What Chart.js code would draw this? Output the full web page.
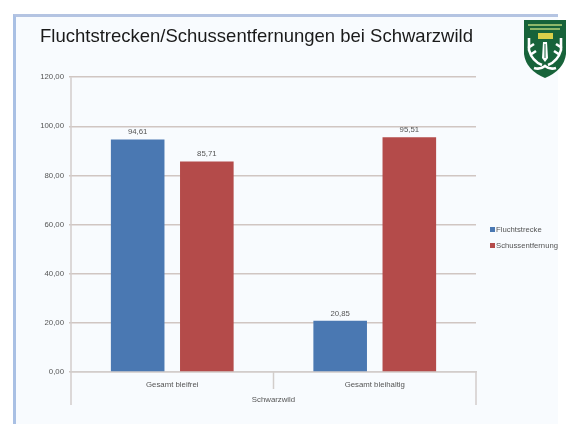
<!DOCTYPE html>
<html>
<head>
<meta charset="utf-8">
<script src="https://cdn.jsdelivr.net/npm/chart.js@4"></script>
<style>
html, body { margin: 0; padding: 0; background: #fff; }
#wrapper { position: relative; width: 566px; height: 424px; overflow: hidden; }
#panel { position: absolute; left: 13px; top: 14px; width: 545px; height: 410px; background: #f8fbfe;
	border-left: 3px solid #a9c0e4; border-top: 3px solid #b4c4e2; box-sizing: border-box; }
#box { position: absolute; left: 0; top: 0; width: 566px; height: 424px; filter: blur(0.5px); }
#logo { position: absolute; left: 524px; top: 20px; filter: blur(0.6px); }
#legend { position: absolute; left: 490px; top: 225px; font: 7.7px "Liberation Sans", sans-serif; color: #555; filter: blur(0.5px); }
#legend div { height: 16px; line-height: 10px; white-space: nowrap; }
#legend span { display: inline-block; width: 5px; height: 5px; margin-right: 1px; vertical-align: 0; }
</style>
</head>
<body>
<div id="wrapper">
	<div id="panel"></div>
	<div id="box"><canvas id="grafico" width="566" height="424"></canvas></div>
	<div id="legend"></div>
	<svg id="logo" width="42" height="58" viewBox="0 0 42 58">
		<path d="M0 0 H42 V34 Q40 50 21 58 Q2 50 0 34 Z" fill="#17633a"/>
		<rect x="14" y="13" width="15" height="6" fill="#d8cf4a"/>
		<rect x="4" y="4" width="34" height="2" fill="#8fb86a"/>
		<rect x="6" y="8" width="30" height="2" fill="#8fb86a"/>
		<path d="M5 18 V30 Q8 41 18 45 M37 18 V30 Q34 41 24 45 M4 28 L10 24 M38 28 L32 24 M6 35 L12 31 M36 35 L30 31 M10 48 Q16 50 21 46 Q26 50 32 48" stroke="#fff" stroke-width="2.6" fill="none"/>
		<path d="M19 22 H23 L24 38 L21 42 L18 38 Z" fill="#fff"/>
		<path d="M21 24 V38" stroke="#17633a" stroke-width="1"/>
	</svg>
</div>

<script>
"use strict";

const titolo = "Fluchtstrecken/Schussentfernungen bei Schwarzwild";
const categorie = ["Gesamt bleifrei", "Gesamt bleihaltig"];
const gruppo = "Schwarzwild";
const nomiSerie = ["Fluchtstrecke", "Schussentfernung"];
const fluchtstrecke = [94.61, 20.85];
const schussentfernung = [85.71, 95.51];
const etichetteFlucht = ["94,61", "20,85"];
const etichetteSchuss = ["85,71", "95,51"];
const tickY = ["0,00", "20,00", "40,00", "60,00", "80,00", "100,00", "120,00"];
const colori = ["#4a78b2", "#b44b4a"];

// legenda a mano, cosi' resta dove sta nell'originale
const legenda = document.getElementById("legend");
nomiSerie.forEach(function (nome, i) {
	const riga = document.createElement("div");
	const quadrato = document.createElement("span");
	quadrato.style.background = colori[i];
	riga.appendChild(quadrato);
	riga.appendChild(document.createTextNode(nome));
	legenda.appendChild(riga);
});

const etichette = {
	id: "etichette",
	afterDatasetsDraw(chart) {
		const ctx = chart.ctx;
		const testi = [etichetteFlucht, etichetteSchuss];
		ctx.save();
		ctx.font = '7.8px "Liberation Sans"';
		ctx.fillStyle = "#555";
		ctx.textAlign = "center";
		ctx.textBaseline = "bottom";
		chart.data.datasets.forEach(function (ds, d) {
			chart.getDatasetMeta(d).data.forEach(function (bar, i) {
				ctx.fillText(testi[d][i], bar.x, bar.y - 3.5);
			});
		});
		ctx.restore();
	}
};

// asse a due livelli: separatori sotto le categorie e nome del gruppo
const assePiu = {
	id: "assePiu",
	beforeDatasetsDraw(chart) {
		const ctx = chart.ctx;
		const a = chart.chartArea;
		ctx.save();
		ctx.strokeStyle = "#d2cdcb";
		ctx.lineWidth = 1.5;
		ctx.beginPath();
		ctx.moveTo(a.left, a.top);
		ctx.lineTo(a.left, a.bottom + 33);
		ctx.moveTo(a.right, a.bottom);
		ctx.lineTo(a.right, a.bottom + 33);
		ctx.moveTo((a.left + a.right) / 2, a.bottom);
		ctx.lineTo((a.left + a.right) / 2, a.bottom + 17);
		ctx.stroke();
		ctx.font = '7.8px "Liberation Sans"';
		ctx.fillStyle = "#555";
		ctx.textAlign = "center";
		ctx.textBaseline = "middle";
		ctx.fillText(gruppo, (a.left + a.right) / 2, a.bottom + 28);
		ctx.restore();
	}
};

const chart = new Chart(document.getElementById("grafico"), {
	type: "bar",
	data: {
		labels: categorie,
		datasets: [
			{ label: nomiSerie[0], data: fluchtstrecke, backgroundColor: colori[0] },
			{ label: nomiSerie[1], data: schussentfernung, backgroundColor: colori[1] }
		]
	},
	options: {
		responsive: false,
		animation: false,
		devicePixelRatio: 1,
		layout: { padding: { left: 40, right: 90, top: 0, bottom: 0 } },
		categoryPercentage: 0.683,
		barPercentage: 0.775,
		plugins: {
			legend: { display: false },
			tooltip: { enabled: false },
			title: {
				display: true,
				text: titolo,
				align: "start",
				color: "#1a1a1a",
				font: { family: "Liberation Sans", size: 18.5, weight: "normal" },
				padding: { top: 26, bottom: 29 }
			}
		},
		scales: {
			x: {
				grid: { display: false },
				border: { color: "#d2cdcb", width: 1.5 },
				ticks: {
					color: "#555",
					font: { family: "Liberation Sans", size: 7.8 },
					padding: 0
				},
				afterFit(scale) { scale.height = 52; }
			},
			y: {
				min: 0,
				max: 120,
				grid: { color: "#d0c6c2", lineWidth: 1.5, tickLength: 2 },
				border: { display: false },
				ticks: {
					stepSize: 20,
					color: "#555",
					font: { family: "Liberation Sans", size: 7.8 },
					padding: 5,
					callback: function (v, i) { return tickY[i]; }
				},
				afterFit(scale) { scale.width = 31; }
			}
		}
	},
	plugins: [etichette, assePiu]
});
</script>
</body>
</html>
